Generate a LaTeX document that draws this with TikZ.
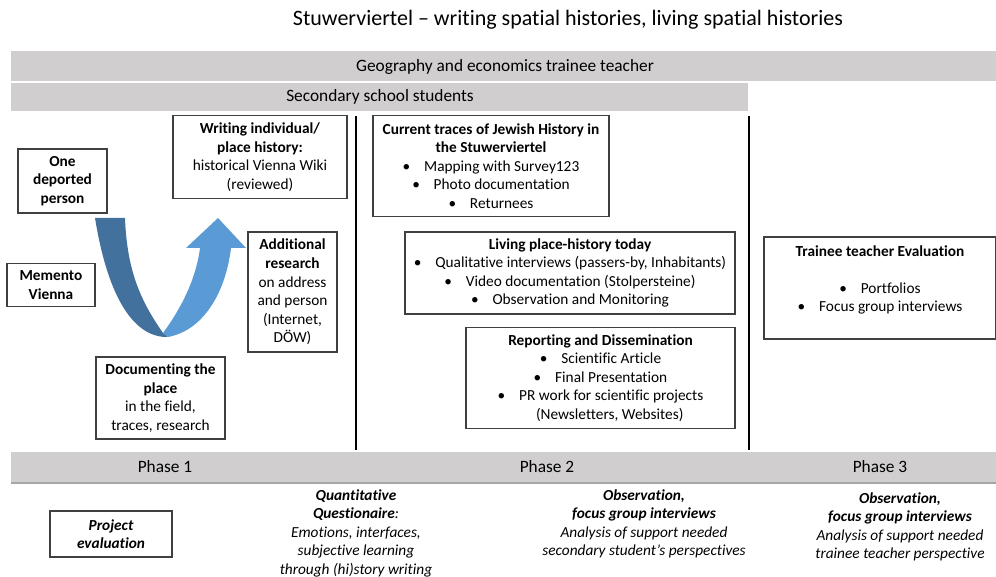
\documentclass[tikz,border=0pt]{standalone}
\usepackage{fontspec}
\setmainfont{Carlito}[Ligatures=NoCommon]
\usepackage{tikz}
\usepackage{xcolor}
\usetikzlibrary{positioning, calc}
\definecolor{bandgray}{RGB}{208,206,206}
\definecolor{lineGray}{RGB}{166,166,166}
\definecolor{arrowDark}{RGB}{65,113,156}
\definecolor{arrowLight}{RGB}{91,155,213}
\tikzset{
    band/.style={fill=bandgray, draw=none},
    bandtext/.style={font=\fontsize{13}{15}\selectfont, inner sep=0pt},
    pbox/.style 2 args={draw=black!75, line width=0.9pt, fill=white, align=center,
        minimum width=#1*0.75pt, minimum height=#2*0.75pt, inner sep=1pt,
        font=\fontsize{11.5}{13.9}\selectfont},
    evaltext/.style={align=center, inner sep=0pt, font=\fontsize{11.5}{13.9}\selectfont\itshape},
    divider/.style={draw=black, line width=1.8pt},
    every picture/.style={x=0.75pt, y=-0.75pt}
}
\newcommand{\itm}{\textbullet\hspace{0.9em}}

\begin{document}
\begin{tikzpicture}
\useasboundingbox (0,0) rectangle (996,577);

% Title and the two groups
\node[font=\fontsize{16.5}{19}\selectfont] (title) at (568,20) {Stuwerviertel – writing spatial histories, living spatial histories};
\path[band] (11,51) rectangle (996,81);
\node[bandtext] (teacher) at (505,67) {Geography and economics trainee teacher};
\path[band] (11,83) rectangle (748,111);
\node[bandtext] (students) at (380,97) {Secondary school students};

% Phase dividers
\coordinate (d1top) at (356,116);
\coordinate (d1bot) at (356,450);
\coordinate (d2top) at (749,116);
\coordinate (d2bot) at (749,450);
\draw[divider] (d1top) -- (d1bot);
\draw[divider] (d2top) -- (d2bot);

% Phase 1: the U-turn arrow
\fill[arrowDark] (95,218) -- (125,218)
    .. controls (127,270) and (140,300) .. (163,333)
    -- (168,337)
    .. controls (140,338) and (110,310) .. (95,218) -- cycle;
\fill[arrowLight] (163,333)
    .. controls (180,310) and (196,280) .. (200,248)
    -- (186,248) -- (218,218) -- (246,248) -- (231,248)
    .. controls (226,290) and (205,330) .. (168,337) -- cycle;

% Phase 1 boxes
\node[pbox={89}{64}] (person) at (62.5,181) {\textbf{One}\\\textbf{deported}\\\textbf{person}};
\node[pbox={174}{83}] (wiki) at (260,157) {\textbf{Writing individual/}\\\textbf{place history:}\\historical Vienna Wiki\\(reviewed)};
\node[pbox={88}{43}] (memento) at (51,285) {\textbf{Memento}\\\textbf{Vienna}};
\node[pbox={89}{120}] (research) at (292.5,292) {\textbf{Additional}\\\textbf{research}\\on address\\and person\\(Internet,\\DÖW)};
\node[pbox={129}{82}] (place) at (160.5,398) {\textbf{Documenting the}\\\textbf{place}\\in the field,\\traces, research};

% Phase 2 boxes
\node[pbox={236}{101}] (traces) at (491,166) {\textbf{Current traces of Jewish History in}\\\textbf{the Stuwerviertel}\\\itm Mapping with Survey123\\\itm Photo documentation\\\itm Returnees};
\node[pbox={330}{82}] (living) at (570,273) {\textbf{Living place-history today}\\\itm Qualitative interviews (passers-by, Inhabitants)\\\itm Video documentation (Stolpersteine)\\\itm Observation and Monitoring};
\node[pbox={269}{101}] (reporting) at (600.5,378) {\textbf{Reporting and Dissemination}\\\itm Scientific Article\\\itm Final Presentation\\\itm PR work for scientific projects\\\hspace{1.2em}(Newsletters, Websites)};

% Phase 3 box
\node[pbox={232}{102}] (trainee) at (880,288) {\textbf{Trainee teacher Evaluation}\\\mbox{}\\\itm Portfolios\\\itm Focus group interviews\\\mbox{}};

% Phase band
\path[band] (11,452) rectangle (996,482);
\draw[lineGray, line width=1.5pt] (11,483) -- (996,483);
\node[bandtext] (phase1) at (165,467) {Phase 1};
\node[bandtext] (phase2) at (547,467) {Phase 2};
\node[bandtext] (phase3) at (880,467) {Phase 3};

% Evaluation per phase
\node[pbox={122}{46}, font=\fontsize{11.5}{13.9}\selectfont\bfseries\itshape] (projeval) at (111,534) {Project\\evaluation};
\node[evaltext] (quant) at (356,533) {\textbf{Quantitative}\\\textbf{Questionaire}:\\Emotions, interfaces,\\subjective learning\\through (hi)story writing};
\node[evaltext] (obsstud) at (644,524) {\textbf{Observation,}\\\textbf{focus group interviews}\\Analysis of support needed\\secondary student’s perspectives};
\node[evaltext] (obsteach) at (900,527) {\textbf{Observation,}\\\textbf{focus group interviews}\\Analysis of support needed\\trainee teacher perspective};
\end{tikzpicture}
\end{document}
